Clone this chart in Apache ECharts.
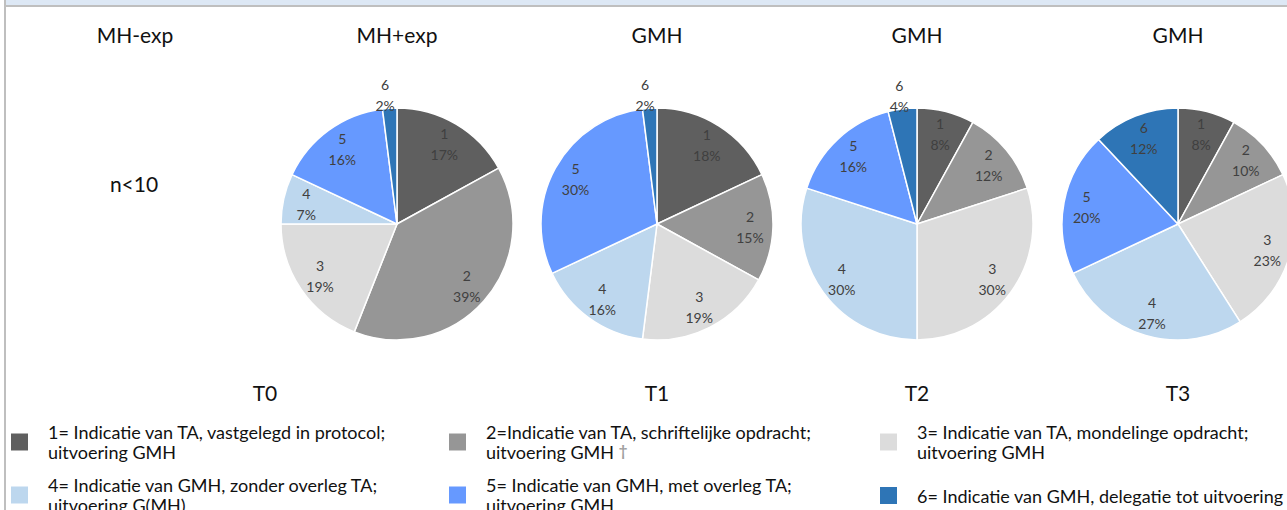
<!DOCTYPE html>
<html><head><meta charset="utf-8">
<script src="https://cdn.jsdelivr.net/npm/echarts@6/dist/echarts.min.js"></script>
<style>html,body{margin:0;padding:0;background:#fff}#c{width:1287px;height:510px}</style>
</head><body><div id="c"></div>
<script>
// ---- data ----
const codes = ['1', '2', '3', '4', '5', '6'];
const categories = [
  '1= Indicatie van TA, vastgelegd in protocol;\nuitvoering GMH',
  '2=Indicatie van TA, schriftelijke opdracht;\nuitvoering GMH',
  '3= Indicatie van TA, mondelinge opdracht;\nuitvoering GMH',
  '4= Indicatie van GMH, zonder overleg TA;\nuitvoering G(MH)',
  '5= Indicatie van GMH, met overleg TA;\nuitvoering GMH',
  '6= Indicatie van GMH, delegatie tot uitvoering'
];
const colors = ['#5f5f5f', '#969696', '#dcdcdc', '#bdd7ee', '#6699ff', '#2e75b6'];
const valuesT0 = [17, 39, 19, 7, 16, 2];
const valuesT1 = [18, 15, 19, 16, 30, 2];
const valuesT2 = [8, 12, 30, 30, 16, 4];
const valuesT3 = [8, 10, 23, 27, 20, 12];
const pieTitles = ['MH+exp', 'GMH', 'GMH', 'GMH'];
const timeLabels = ['T0', 'T1', 'T2', 'T3'];
const emptyTitle = 'MH-exp';
const emptyNote = 'n<10';

// ---- layout ----
const FONT = 'Lato, "Noto Sans", sans-serif';
const pieValues = [valuesT0, valuesT1, valuesT2, valuesT3];
const centersX = [397, 657, 917, 1178];
const CY = 224, R = 116;

const chart = echarts.init(document.getElementById('c'), null, {renderer: 'svg'});

const series = [];
pieValues.forEach((vals, i) => {
  const data = vals.map((v, k) => ({name: categories[k], value: v, itemStyle: {color: colors[k]}}));
  series.push({
    type: 'pie', center: [centersX[i], CY], radius: [0, R], startAngle: 90, clockwise: true,
    silent: true, animation: false,
    itemStyle: {borderColor: '#ffffff', borderWidth: 1.5},
    label: {show: false}, labelLine: {show: false},
    data: data
  });
  series.push({
    type: 'pie', center: [centersX[i], CY], radius: [64, R], startAngle: 90, clockwise: true,
    silent: true, animation: false, legendHoverLink: false,
    itemStyle: {color: 'rgba(0,0,0,0)', borderWidth: 0},
    label: {
      show: true, position: 'inside', color: '#404040', fontFamily: FONT, fontSize: 14, lineHeight: 21,
      formatter: p => codes[p.dataIndex] + '\n' + p.value + '%'
    },
    labelLine: {show: false},
    labelLayout: p => (vals[p.dataIndex] < 5 ? {dx: -6, dy: -36} : {}),
    data: vals.map((v, k) => ({name: categories[k], value: v, itemStyle: {color: 'rgba(0,0,0,0)'}}))
  });
});

// legend: one component per entry, 3 columns x 2 rows
const legendLeft = [9, 447, 878];
const legendTop = [422, 475];
const legends = categories.map((name, k) => {
  const col = k % 3, row = Math.floor(k / 3);
  const single = name.indexOf('\n') < 0;
  return {
    left: legendLeft[col], top: single ? 485 : legendTop[row], padding: 0,
    orient: 'horizontal', itemWidth: 19, itemHeight: 19, icon: 'rect',
    selectedMode: false,
    data: [{name: name, itemStyle: {color: colors[k]}}],
    formatter: n => (k === 1 ? n + ' {d|†}' : n),
    textStyle: {
      fontFamily: FONT, fontSize: 18, color: '#111111', lineHeight: 20, padding: [0, 0, 0, 14],
      rich: {d: {color: '#a0a0a0', fontSize: 15, fontFamily: FONT, fontWeight: 'bold', verticalAlign: 'top'}}
    }
  };
});

const graphic = [
  {type: 'rect', shape: {x: 6, y: 0, width: 1281, height: 5}, style: {fill: '#dde8f5'}, silent: true},
  {type: 'rect', shape: {x: 4, y: 5, width: 1283, height: 2}, style: {fill: '#bfbfbf'}, silent: true},
  {type: 'rect', shape: {x: 4, y: 0, width: 2, height: 510}, style: {fill: '#bfbfbf'}, silent: true},
  {type: 'text', x: 135, y: 34, style: {text: emptyTitle, fill: '#111', font: '21px ' + FONT, textAlign: 'center', textVerticalAlign: 'middle'}},
  {type: 'text', x: 134, y: 183, style: {text: emptyNote, fill: '#111', font: '21px ' + FONT, textAlign: 'center', textVerticalAlign: 'middle'}}
];
pieTitles.forEach((t, i) => {
  graphic.push({type: 'text', x: centersX[i], y: 34, style: {text: t, fill: '#111', font: '21px ' + FONT, textAlign: 'center', textVerticalAlign: 'middle'}});
});
const timeX = [265, 657, 917, 1178];
timeLabels.forEach((t, i) => {
  graphic.push({type: 'text', x: timeX[i], y: 392, style: {text: t, fill: '#111', font: '21px ' + FONT, textAlign: 'center', textVerticalAlign: 'middle'}});
});

chart.setOption({
  backgroundColor: '#ffffff',
  animation: false,
  legend: legends,
  graphic: graphic,
  series: series
});
</script>
</body></html>
